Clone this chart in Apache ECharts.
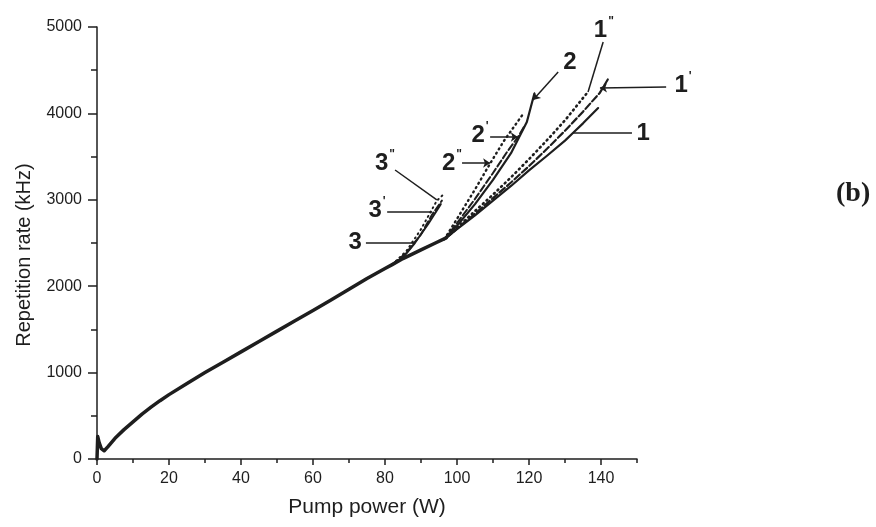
<!DOCTYPE html>
<html>
<head>
<meta charset="utf-8">
<script src="https://cdn.jsdelivr.net/npm/echarts@6/dist/echarts.min.js"></script>
<style>
html,body{margin:0;padding:0;background:#fff;}
#c{width:876px;height:527px;}
</style>
</head>
<body>
<div id="c"></div>
<script>
// ---- data ----
var xMajorTicks = [0, 20, 40, 60, 80, 100, 120, 140];
var xMinorTicks = [10, 30, 50, 70, 90, 110, 130, 150];

var mainCurve = [[0,0],[0.2,260],[0.6,190],[1.2,120],[2,95],[3,140],[5,240],[7.5,340],[10,430],[12.5,520],[15,600],[17.5,675],[20,745],[25,875],[30,1000],[35,1120],[40,1240],[45,1360],[50,1480],[55,1600],[60,1720],[65,1840],[70,1965],[75,2090],[80,2205],[82,2250],[85,2320],[90,2420],[94,2500],[97,2560]];

var curve1   = [[97,2560],[100,2660],[105,2820],[110,2990],[115,3160],[120,3340],[125,3510],[130,3685],[132.2,3773],[135,3885],[139.2,4062]];
var curve1p  = [[97,2560],[105,2840],[110,3020],[115,3200],[120,3390],[125,3590],[130,3800],[135,4020],[139.7,4240],[142,4400]];
var curve1pp = [[97,2560],[105,2870],[110,3060],[115,3260],[120,3470],[125,3690],[130,3920],[136.4,4250]];

var curve2   = [[96.5,2545],[100,2700],[105,2950],[110,3230],[115,3540],[119.4,3900],[121.5,4230]];
var curve2p  = [[96.5,2545],[100,2730],[105,3010],[110,3310],[114,3560],[117,3730],[118.8,3860]];
var curve2pp = [[96.5,2545],[100,2780],[105,3120],[109.2,3420],[113,3680],[118.3,3990]];

var curve3   = [[82,2250],[85,2330],[88.3,2500],[92,2720],[95.5,2950]];
var curve3p  = [[82,2250],[86,2390],[90,2600],[93.1,2830],[95.8,2990]];
var curve3pp = [[82,2250],[86,2410],[90,2660],[94.4,2990],[96.7,3080]];

var labelTexts = ['1', '1', '1', '2', '2', '2', '3', '3', '3'];
var labelSups  = ['"', "'", '', '', "'", '"', '"', "'", ''];
var labelPos   = [[140.8,4965],[162.8,4329],[151.7,3773],[131.4,4595],[106.4,3750],[98.6,3426],[80.0,3426],[77.8,2882],[71.7,2512]];
var pointerFrom = [[140.6,4826],[158.1,4306],[148.6,3773],[128.1,4479],[109.2,3727],[101.4,3426],[82.8,3345],[80.6,2859],[74.7,2500]];
var pointerTo   = [[136.4,4248],[139.7,4294],[132.2,3773],[121.1,4155],[116.9,3727],[109.2,3426],[94.4,2998],[93.1,2859],[88.3,2500]];
var pointerArrow = [false, true, false, true, true, true, false, false, false];

// ---- chart ----
var ink = '#1e1e1e';
var chart = echarts.init(document.getElementById('c'), null, {renderer: 'canvas'});

function lineSeries(data, width, type) {
  return {
    type: 'line', data: data, showSymbol: false, symbol: 'none', smooth: false,
    clip: false, silent: true, z: 3,
    lineStyle: {color: ink, width: width, type: type || 'solid', cap: 'round', join: 'round'}
  };
}

var dotted = [1, 4];
var dashed = [7, 3];

var option = {
  backgroundColor: '#ffffff',
  animation: false,
  grid: {left: 97, right: 239, top: 27, bottom: 68, containLabel: false},
  xAxis: [{
    type: 'value', min: 0, max: 150, interval: 10, position: 'bottom',
    name: 'Pump power (W)', nameLocation: 'middle', nameGap: 38,
    nameTextStyle: {fontFamily: 'Liberation Sans, Arial, sans-serif', fontSize: 21, color: ink},
    axisLine: {show: true, lineStyle: {color: ink, width: 1.5}},
    axisTick: {show: true, inside: false, length: 6, lineStyle: {color: ink, width: 1.5}, customValues: xMajorTicks},
    axisLabel: {show: true, margin: 12, fontFamily: 'Liberation Sans, Arial, sans-serif', fontSize: 16, color: ink, customValues: xMajorTicks, formatter: function (v) { return String(v); }},
    splitLine: {show: false}
  }, {
    type: 'value', min: 0, max: 150, interval: 10, position: 'bottom',
    axisLine: {show: false},
    axisTick: {show: true, inside: false, length: 4, lineStyle: {color: ink, width: 1.5}, customValues: xMinorTicks},
    axisLabel: {show: false},
    splitLine: {show: false}
  }],
  yAxis: {
    type: 'value', min: 0, max: 5000, interval: 1000,
    name: 'Repetition rate (kHz)', nameLocation: 'middle', nameGap: 63,
    nameTextStyle: {fontFamily: 'Liberation Sans, Arial, sans-serif', fontSize: 20, color: ink, padding: [0, 24, 0, 0]},
    axisLine: {show: true, lineStyle: {color: ink, width: 1.5}},
    axisTick: {show: true, inside: false, length: 9, lineStyle: {color: ink, width: 1.5}},
    minorTick: {show: true, splitNumber: 2, length: 6, lineStyle: {color: ink, width: 1.5}},
    axisLabel: {margin: 15, fontFamily: 'Liberation Sans, Arial, sans-serif', fontSize: 16, color: ink, formatter: function (v) { return String(v); }},
    splitLine: {show: false}
  },
  series: [
    lineSeries(mainCurve, 3.5),
    lineSeries(curve1, 2.2),
    lineSeries(curve1p, 2.2, dashed),
    lineSeries(curve1pp, 2.6, dotted),
    lineSeries(curve2, 2.2),
    lineSeries(curve2p, 2.0, dashed),
    lineSeries(curve2pp, 2.4, dotted),
    lineSeries(curve3, 2.0),
    lineSeries(curve3p, 2.0, dashed),
    lineSeries(curve3pp, 2.0, dotted),
    {
      type: 'lines', coordinateSystem: 'cartesian2d', clip: false, silent: true, z: 4,
      symbolSize: 8,
      lineStyle: {color: ink, width: 1.5, opacity: 1, curveness: 0},
      data: pointerFrom.map(function (p, i) {
        return {coords: [p, pointerTo[i]], symbol: ['none', pointerArrow[i] ? 'arrow' : 'none'], symbolSize: [0, 7]};
      })
    },
    {
      type: 'scatter', clip: false, silent: true, symbol: 'circle', symbolSize: 1, z: 5,
      itemStyle: {color: 'rgba(0,0,0,0)'},
      data: labelPos.map(function (p, i) { return {value: p, name: labelTexts[i]}; }),
      label: {
        show: true, position: 'inside', opacity: 1,
        formatter: function (params) {
          var s = labelSups[params.dataIndex];
          return '{n|' + params.name + '}' + (s ? '{s|' + s + '}' : '');
        },
        rich: {
          n: {fontFamily: 'Liberation Sans, Arial, sans-serif', fontWeight: 'bold', fontSize: 24, color: ink},
          s: {fontFamily: 'Liberation Sans, Arial, sans-serif', fontWeight: 'bold', fontSize: 12, color: ink, padding: [0, 0, 16, 1]}
        }
      }
    }
  ],
  graphic: [{
    type: 'text', left: 836, top: 180, silent: true,
    style: {text: '(b)', fontFamily: 'Liberation Serif, Times New Roman, serif', fontWeight: 'bold', fontSize: 28, fill: ink}
  }]
};
chart.setOption(option);
</script>
</body>
</html>
